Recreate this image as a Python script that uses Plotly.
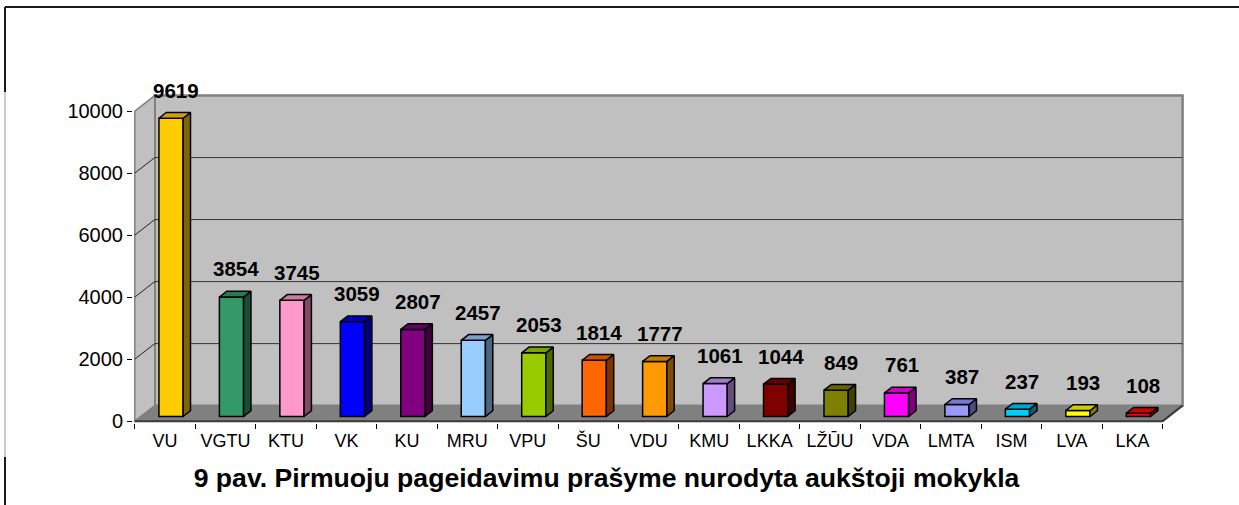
import plotly.graph_objects as go

# ---------------- data ----------------
categories = ["VU", "VGTU", "KTU", "VK", "KU", "MRU", "VPU", "ŠU", "VDU",
              "KMU", "LKKA", "LŽŪU", "VDA", "LMTA", "ISM", "LVA", "LKA"]
values = [9619, 3854, 3745, 3059, 2807, 2457, 2053, 1814, 1777,
          1061, 1044, 849, 761, 387, 237, 193, 108]
bar_colors = ["#FFCC00", "#339966", "#FF99CC", "#0000FF", "#800080", "#99CCFF",
              "#99CC00", "#FF6600", "#FF9900", "#CC99FF", "#800000", "#808000",
              "#FF00FF", "#9999FF", "#00CCFF", "#FFFF00", "#FF0000"]
y_ticks = [0, 2000, 4000, 6000, 8000, 10000]
y_tick_labels = ["0", "2000", "4000", "6000", "8000", "10000"]
title_text = "9 pav. Pirmuoju pageidavimu prašyme nurodyta aukštoji mokykla"

# ---------------- 3D projection style ----------------
DX = 0.33      # depth shift (category units)
DY = 500       # depth shift (value units)
F, B = 0.30, 0.67   # bar front / back depth fractions
BAR_W = 0.40
YMAX = y_ticks[-1]
FONT = "Liberation Sans, Arial, sans-serif"

W_PX, H_PX = 1239, 505
L, R, T, Bm = 133, 54, 94, 82
PW, PH = W_PX - L - R, H_PX - T - Bm


def shade(hx, k):
    hx = hx.lstrip("#")
    r, g, b = (int(hx[i:i + 2], 16) for i in (0, 2, 4))
    return "#%02X%02X%02X" % (int(r * k), int(g * k), int(b * k))


def px_x(p):
    return (p - L) / PW


def px_y(p):
    return (H_PX - Bm - p) / PH


n = len(categories)
x0, x1 = -0.5, n - 0.5

fig = go.Figure()
shapes = []


def path_shape(pts, fill, lc, lw, closed=True):
    d = "M " + " L ".join(f"{x},{y}" for x, y in pts) + (" Z" if closed else "")
    shapes.append(dict(type="path", path=d, xref="x", yref="y", layer="below",
                       fillcolor=fill if closed else None,
                       line=dict(color=lc, width=lw)))


# back wall
path_shape([(x0 + DX, DY), (x1 + DX, DY), (x1 + DX, YMAX + DY), (x0 + DX, YMAX + DY)],
           "#C0C0C0", "#808080", 2.5)
# side wall
path_shape([(x0, 0), (x0 + DX, DY), (x0 + DX, YMAX + DY), (x0, YMAX)],
           "#C0C0C0", "#808080", 1.5)
# gridlines (back wall + side wall diagonals)
for t in y_ticks[1:-1]:
    path_shape([(x0 + DX, t + DY), (x1 + DX, t + DY)], None, "#333333", 1, closed=False)
    path_shape([(x0, t), (x0 + DX, t + DY)], None, "#222222", 1, closed=False)
# floor
path_shape([(x0, 0), (x1, 0), (x1 + DX, DY), (x0 + DX, DY)], "#808080", "#808080", 1)
path_shape([(x0, 0), (x1, 0), (x1 + DX, DY)], None, "#3A3A3A", 2, closed=False)

# front faces of bars
fig.add_trace(go.Bar(
    x=[i + F * DX for i in range(n)], y=values, base=F * DY, width=BAR_W,
    marker=dict(color=bar_colors, line=dict(color="black", width=1.5)),
    hoverinfo="skip", showlegend=False))

# side and top faces
D = B - F
for i, (v, c) in enumerate(zip(values, bar_colors)):
    xl = i + F * DX - BAR_W / 2
    xr = i + F * DX + BAR_W / 2
    yb = F * DY
    yt = v + F * DY
    side_x = [xr, xr + D * DX, xr + D * DX, xr, xr]
    side_y = [yb, yb + D * DY, yt + D * DY, yt, yb]
    fig.add_trace(go.Scatter(x=side_x, y=side_y, mode="lines", fill="toself",
                             fillcolor=shade(c, 0.5), line=dict(color="black", width=1.5),
                             hoverinfo="skip", showlegend=False))
    top_x = [xl, xr, xr + D * DX, xl + D * DX, xl]
    top_y = [yt, yt, yt + D * DY, yt + D * DY, yt]
    fig.add_trace(go.Scatter(x=top_x, y=top_y, mode="lines", fill="toself",
                             fillcolor=shade(c, 0.8), line=dict(color="black", width=1.5),
                             hoverinfo="skip", showlegend=False))

# value labels
annotations = []
for i, v in enumerate(values):
    annotations.append(dict(x=i + F * DX, y=v + F * DY, xref="x", yref="y",
                            text=f"<b>{v}</b>", showarrow=False, yanchor="middle",
                            xanchor="center", xshift=5, yshift=28,
                            font=dict(family=FONT, size=20.5, color="black")))

# outer frame
shapes.append(dict(type="line", xref="paper", yref="paper",
                   x0=px_x(5), x1=px_x(W_PX), y0=px_y(7), y1=px_y(7),
                   line=dict(color="#1A1A1A", width=2)))
shapes.append(dict(type="line", xref="paper", yref="paper",
                   x0=px_x(5), x1=px_x(5), y0=px_y(7), y1=px_y(92),
                   line=dict(color="#1A1A1A", width=2)))
shapes.append(dict(type="line", xref="paper", yref="paper",
                   x0=px_x(5), x1=px_x(5), y0=px_y(92), y1=px_y(457),
                   line=dict(color="#BBBBBB", width=1.5)))
shapes.append(dict(type="line", xref="paper", yref="paper",
                   x0=px_x(5), x1=px_x(5), y0=px_y(457), y1=px_y(H_PX),
                   line=dict(color="#1A1A1A", width=2)))

fig.update_layout(
    width=W_PX, height=H_PX,
    margin=dict(l=L, r=R, t=T, b=Bm),
    paper_bgcolor="white", plot_bgcolor="white",
    hovermode=False, showlegend=False,
    shapes=shapes, annotations=annotations,
    title=dict(text=f"<b>{title_text}</b>", x=606.5 / W_PX, xanchor="center",
               xref="container", yref="container", y=1 - 478 / H_PX, yanchor="middle",
               font=dict(family=FONT, size=26.6, color="black")),
    xaxis=dict(range=[-0.53, n - 0.5 + DX + 0.04], showgrid=False, zeroline=False,
               showline=False, tickmode="array", tickvals=list(range(n)),
               ticktext=categories, ticks="", ticklabelstandoff=5,
               tickfont=dict(family=FONT, size=18, color="black"),
               minor=dict(tickmode="array", tickvals=[i - 0.5 for i in range(n + 1)],
                          ticks="outside", ticklen=5, tickcolor="black", tickwidth=1,
                          showgrid=False)),
    yaxis=dict(range=[-60, 10550], showgrid=False, zeroline=False, showline=False,
               tickmode="array", tickvals=y_ticks, ticktext=y_tick_labels,
               ticks="outside", ticklen=5, tickcolor="black", tickwidth=1,
               tickfont=dict(family=FONT, size=20, color="black")),
)

fig.write_html("out.html", config={"displayModeBar": False},
               post_script="document.body.style.margin='0';")
